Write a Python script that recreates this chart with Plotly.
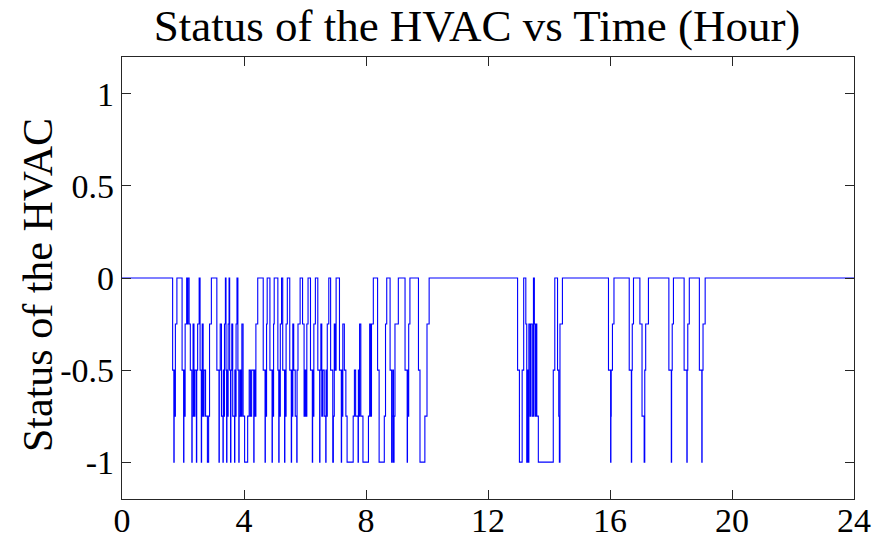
import plotly.graph_objects as go

# Step breakpoints: status holds from each hour until the next one
hours = [
    0.00,
    1.66, 1.70, 1.71, 1.73, 1.75, 1.80,
    1.97, 2.02, 2.03, 2.05, 2.07, 2.12, 2.14, 2.16,
    2.20, 2.24, 2.29, 2.30, 2.33, 2.36, 2.39,
    2.44, 2.45, 2.48, 2.53,
    2.56, 2.60, 2.61, 2.63, 2.66, 2.69,
    2.74, 2.80, 2.84, 2.87, 2.93,
    3.11, 3.18, 3.19, 3.22, 3.26,
    3.31, 3.32, 3.34, 3.36, 3.39,
    3.41, 3.43, 3.44, 3.46, 3.48, 3.51,
    3.53, 3.56, 3.57, 3.60, 3.63,
    3.69, 3.70, 3.72, 3.74, 3.77,
    3.80, 3.83, 3.84, 3.87, 3.90, 3.93,
    3.97, 4.02, 4.12, 4.17, 4.21, 4.25,
    4.32, 4.33, 4.36, 4.39, 4.45,
    4.63, 4.69, 4.70, 4.72, 4.74, 4.76,
    4.85, 4.92, 4.93, 4.95, 4.97, 4.99,
    5.11, 5.14, 5.15, 5.17, 5.19, 5.23,
    5.27, 5.33, 5.34, 5.36, 5.38, 5.42,
    5.50, 5.55, 5.56, 5.58, 5.60, 5.63,
    5.68, 5.73, 5.74, 5.77, 5.84,
    5.92, 5.97, 6.00, 6.03, 6.06, 6.10,
    6.18, 6.24, 6.25, 6.27, 6.29, 6.34,
    6.42, 6.48, 6.49, 6.52, 6.55, 6.58,
    6.63, 6.68, 6.69, 6.71, 6.73, 6.78,
    6.84, 6.91, 6.93, 6.96, 6.99, 7.02,
    7.13, 7.19, 7.20, 7.22, 7.24, 7.29,
    7.34, 7.38, 7.58, 7.62,
    7.66, 7.74, 7.75, 7.77, 7.79, 7.83,
    7.90, 8.08, 8.12, 8.15, 8.18, 8.24,
    8.38, 8.43, 8.60, 8.64, 8.68,
    8.79, 8.84, 8.86, 8.88, 8.90, 8.92, 8.95, 9.06,
    9.28, 9.35, 9.36, 9.38, 9.40, 9.44,
    9.72, 9.77, 9.93, 10.00, 10.07,
    12.97, 13.03, 13.12, 13.17,
    13.24, 13.27, 13.29, 13.32, 13.34, 13.38, 13.40, 13.45, 13.49,
    13.52, 13.54, 13.57, 13.60, 13.65, 14.14, 14.19,
    14.28, 14.32, 14.34, 14.36, 14.44,
    15.95, 16.02, 16.03, 16.04, 16.08, 16.13,
    16.63, 16.70, 16.71, 16.73, 16.77,
    16.98, 17.05, 17.12, 17.14, 17.17, 17.26,
    17.93, 18.01, 18.02, 18.04, 18.08,
    18.43, 18.52, 18.53, 18.55, 18.60,
    18.93, 19.01, 19.02, 19.05, 19.12,
    24.00,
]
status = [
    0,
    -0.5, -1, -0.5, -0.75, -0.25, 0,
    -0.5, -1, -0.5, -0.75, -0.25, 0, -0.25, 0,
    -0.25, -0.5, -1, -0.75, -0.25, -0.75, -0.5,
    -1, -0.5, -0.25, 0,
    -0.5, -1, -0.75, -0.25, -0.75, -0.5,
    -0.75, -1, -0.75, -0.25, 0,
    -0.5, -1, -0.5, -0.25, -0.75,
    -1, -0.5, -0.75, -0.25, 0,
    -0.5, -1, -0.5, -0.75, -0.25, 0,
    -0.5, -1, -0.5, -0.25, -0.75,
    -1, -0.5, -0.75, -0.25, 0,
    -0.5, -1, -0.75, -0.5, -0.75, -0.25,
    -0.75, -1, -0.75, -0.5, -0.75, -0.5,
    -1, -0.5, -0.75, -0.25, 0,
    -0.5, -1, -0.5, -0.75, -0.25, 0,
    -0.5, -1, -0.5, -0.75, -0.25, 0,
    -0.5, -1, -0.5, -0.75, -0.25, 0,
    -0.5, -1, -0.5, -0.75, -0.25, 0,
    -0.5, -1, -0.5, -0.75, -0.25, -0.5,
    -0.75, -1, -0.5, -0.25, 0,
    -0.25, -0.75, -0.5, -0.75, -0.25, 0,
    -0.5, -1, -0.5, -0.75, -0.25, 0,
    -0.5, -1, -0.5, -0.25, -0.75, -0.5,
    -0.75, -1, -0.5, -0.75, -0.25, 0,
    -0.5, -1, -0.75, -0.25, -0.5, 0,
    -0.5, -1, -0.5, -0.75, -0.25, -0.5,
    -0.75, -1, -0.75, -0.5,
    -0.75, -1, -0.5, -0.75, -0.25, -0.75,
    -1, -0.75, -0.25, -0.75, -0.25, 0,
    -0.5, -1, -0.75, -0.25, 0,
    -0.5, -1, -0.75, -0.5, -1, -0.75, -0.25, 0,
    -0.5, -1, -0.5, -0.75, -0.25, 0,
    -0.5, -1, -0.75, -0.25, 0,
    -0.5, -1, -0.5, 0,
    -0.25, -1, -0.5, -1, -0.25, -0.75, -0.25, -0.75, 0,
    -0.25, -0.75, -0.25, -0.75, -1, -0.5, 0,
    -0.5, -0.75, -1, -0.25, 0,
    -0.5, -1, -0.75, -0.5, -0.25, 0,
    -0.5, -1, -0.5, -0.25, 0,
    -0.25, -0.75, -1, -0.5, -0.25, 0,
    -0.5, -1, -0.5, -0.25, 0,
    -0.5, -1, -0.5, -0.25, 0,
    -0.5, -1, -0.5, -0.25, 0,
    0,
]

x_ticks = [0, 4, 8, 12, 16, 20, 24]
y_ticks = [-1, -0.5, 0, 0.5, 1]
y_tick_text = ["-1", "-0.5", "0", "0.5", "1"]

FONT = "Liberation Serif"
L, R, T, B = 122, 26, 57, 39
W, H = 880, 538
PW, PH = W - L - R, H - T - B

fig = go.Figure()
fig.add_trace(go.Scatter(
    x=hours, y=status, mode="lines",
    line=dict(color="#0000ff", width=1.1, shape="hv"),
    showlegend=False,
))

axis_common = dict(
    showline=True, linecolor="#262626", linewidth=1.2, mirror="allticks",
    ticks="inside", ticklen=9, tickcolor="#262626", tickwidth=1.2,
    showgrid=False, zeroline=False, automargin=False,
    tickfont=dict(family=FONT, size=34, color="#000000"),
)

fig.update_layout(
    width=W, height=H,
    margin=dict(l=L, r=R, t=T, b=B),
    paper_bgcolor="white", plot_bgcolor="white",
    title=dict(
        text="Status of the HVAC vs Time (Hour)",
        font=dict(family=FONT, size=45, color="#000000"),
        x=477 / W, xref="container", xanchor="center",
        y=1 - 25 / H, yref="container", yanchor="middle",
    ),
    xaxis=dict(range=[0, 24], tickvals=x_ticks, ticklabelstandoff=-9, **axis_common),
    yaxis=dict(
        range=[-1.2, 1.2], tickvals=y_ticks, ticktext=y_tick_text,
        ticklabelstandoff=0,
        **axis_common,
    ),
    annotations=[dict(
        text="Status of the HVAC", textangle=-90,
        font=dict(family=FONT, size=42, color="#000000"),
        xref="paper", yref="paper",
        x=(38 - L) / PW, y=(H - B - 285) / PH,
        xanchor="center", yanchor="middle", showarrow=False,
    )],
)

fig.write_html("out.html")
